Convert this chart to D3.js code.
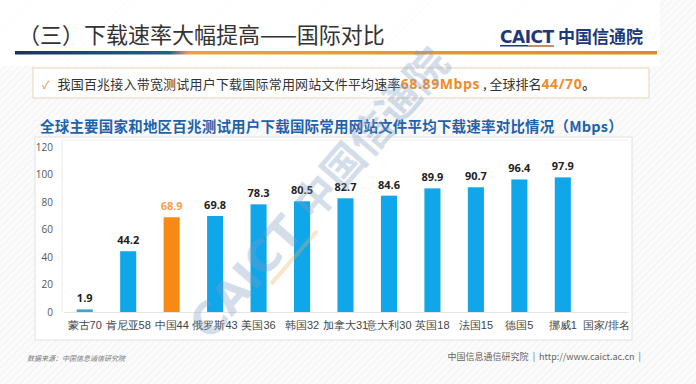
<!DOCTYPE html>
<html><head><meta charset="utf-8">
<script src="https://cdn.jsdelivr.net/npm/d3@7"></script>
<style>
html,body{margin:0;padding:0;background:#fff;}
svg{display:block;font-family:"Noto Sans CJK SC","Noto Sans",sans-serif;}
svg text{white-space:pre;}
</style></head>
<body>
<script>
const categories = ["蒙古70","肯尼亚58","中国44","俄罗斯43","美国36","韩国32","加拿大31","意大利30","英国18","法国15","德国5","挪威1","国家/排名"];
const values = [1.9,44.2,68.9,69.8,78.3,80.5,82.7,84.6,89.9,90.7,96.4,97.9,null];
const highlight = "中国44";
const yTicks = [0,20,40,60,80,100,120];

const W = 696, H = 384;
const svg = d3.select("body").append("svg").attr("width",W).attr("height",H);
const defs = svg.append("defs");
const pat = defs.append("pattern").attr("id","hatch").attr("width",5).attr("height",5)
  .attr("patternUnits","userSpaceOnUse").attr("patternTransform","rotate(45)");
pat.append("rect").attr("width",5).attr("height",5).attr("fill","#fbfbfb");
pat.append("line").attr("x1",0).attr("y1",0).attr("x2",0).attr("y2",5).attr("stroke","#ececec").attr("stroke-width",1.2);
const lg = defs.append("linearGradient").attr("id","hline").attr("x1","0").attr("x2","1");
lg.append("stop").attr("offset","0").attr("stop-color","#1d2f6e");
lg.append("stop").attr("offset","0.24").attr("stop-color","#1f5e9a");
lg.append("stop").attr("offset","0.27").attr("stop-color","#f0a040");
lg.append("stop").attr("offset","1").attr("stop-color","#e8872a");

svg.append("rect").attr("width",W).attr("height",H).attr("fill","url(#hatch)");
svg.append("rect").attr("x",0).attr("y",0).attr("width",660).attr("height",66).attr("fill","#fff").attr("opacity",0.85);

// title
svg.append("text").attr("x",18).attr("y",43).attr("font-size",22).attr("fill","#333")
  .text("（三）下载速率大幅提高——国际对比");
// logo
const logo = svg.append("g");
logo.append("text").attr("x",500).attr("y",43).attr("font-size",17).attr("font-weight","bold")
  .attr("fill","#1d3a78").attr("font-family","DejaVu Sans").attr("letter-spacing","-0.5").text("CAICT");
logo.append("rect").attr("x",500).attr("y",45).attr("width",54).attr("height",1.5).attr("fill","#1d3a78");
logo.append("rect").attr("x",528).attr("y",45).attr("width",26).attr("height",1.5).attr("fill","#e8872a");
logo.append("text").attr("x",558).attr("y",43).attr("font-size",17).attr("font-weight","bold")
  .attr("fill","#1d3a78").text("中国信通院");
// header line
svg.append("rect").attr("x",15).attr("y",51).attr("width",642).attr("height",3.5).attr("fill","url(#hline)");

// text box
svg.append("rect").attr("x",33).attr("y",68).attr("width",616).attr("height",30)
  .attr("fill","#fff").attr("stroke","#ecd3b4").attr("stroke-width",1);
const t1 = svg.append("text").attr("x",42).attr("y",89).attr("font-size",13).attr("fill","#333");
t1.append("tspan").attr("fill","#e0884a").attr("font-size",11).text("✓");
t1.append("tspan").attr("dx",8).attr("letter-spacing",0.2).text("我国百兆接入带宽测试用户下载国际常用网站文件平均速率");
t1.append("tspan").attr("fill","#f08c2a").attr("font-weight","bold").attr("font-size",14)
  .attr("font-family","Open Sans").attr("letter-spacing",0.6).text("68.89Mbps");
t1.append("tspan").text(" , 全球排名");
t1.append("tspan").attr("fill","#f08c2a").attr("font-weight","bold").attr("font-size",14)
  .attr("font-family","Open Sans").attr("letter-spacing",0.6).text("44/70");
t1.append("tspan").attr("font-weight","bold").text("。");

// chart box
svg.append("rect").attr("x",35).attr("y",137).attr("width",597).attr("height",203)
  .attr("fill","#fff").attr("stroke","#e2e2e2");
svg.append("text").attr("x",40).attr("y",132).attr("font-size",14.5).attr("font-weight","bold")
  .attr("letter-spacing",0.2).attr("fill","#1f62aa").text("全球主要国家和地区百兆测试用户下载国际常用网站文件平均下载速率对比情况（Mbps）");

const x = d3.scaleBand().domain(categories).range([63,628]).paddingInner(0.63).paddingOuter(0.315);
const y = d3.scaleLinear().domain([0,120]).range([312,147]);

svg.append("line").attr("x1",62).attr("x2",62).attr("y1",140).attr("y2",312).attr("stroke","#ececec");
svg.append("line").attr("x1",62).attr("x2",628).attr("y1",140).attr("y2",140).attr("stroke","#f0f0f0");

const yAxis = svg.append("g").attr("transform","translate(53,0)")
  .call(d3.axisLeft(y).tickValues(yTicks).tickSize(0).tickPadding(0));
yAxis.select(".domain").remove();
yAxis.selectAll("text").attr("font-size",10).attr("fill","#555").attr("font-family","Open Sans");

const xAxis = svg.append("g").attr("transform","translate(0,312)")
  .call(d3.axisBottom(x).tickSize(0).tickPadding(9));
xAxis.select(".domain").attr("stroke","#e6e6e6");
xAxis.selectAll("text").attr("font-size",11).attr("fill","#444");

const data = categories.map((c,i)=>({c, v: values[i]})).filter(d=>d.v!=null);
svg.append("g").selectAll("rect").data(data).join("rect")
  .attr("x",d=>x(d.c)).attr("width",x.bandwidth())
  .attr("y",d=>y(d.v)).attr("height",d=>y(0)-y(d.v))
  .attr("fill",d=>d.c===highlight?"#f78a14":(d.v<5?"#35a8d6":"#0fa6ea"));
svg.append("g").selectAll("text").data(data).join("text")
  .attr("x",d=>x(d.c)+x.bandwidth()/2).attr("y",d=>y(d.v)-7)
  .attr("text-anchor","middle").attr("font-size",11).attr("font-weight","bold")
  .attr("font-family","Open Sans")
  .attr("fill",d=>d.c===highlight?"#f4a04c":"#222").text(d=>d.v.toFixed(1));

// watermark
const wm = svg.append("g").attr("transform","translate(210,342) rotate(-49)").attr("opacity",0.33);
wm.append("text").attr("x",0).attr("y",0).attr("font-size",44).attr("font-weight","bold")
  .attr("fill","#7f9cc4").attr("font-family","DejaVu Sans").text("CAICT");
wm.append("text").attr("x",158).attr("y",0).attr("font-size",42).attr("font-weight","bold")
  .attr("fill","#7f9cc4").text("中国信通院");
wm.append("rect").attr("x",84).attr("y",6).attr("width",70).attr("height",4).attr("fill","#f0b060");

// footer
svg.append("text").attr("x",27).attr("y",361).attr("font-size",7).attr("font-style","italic")
  .attr("fill","#777").text("数据来源：中国信息通信研究院");
svg.append("text").attr("x",641).attr("y",360).attr("text-anchor","end").attr("font-size",9)
  .attr("fill","#666").text("中国信息通信研究院  |  http://www.caict.ac.cn  |");
</script>
</body></html>
